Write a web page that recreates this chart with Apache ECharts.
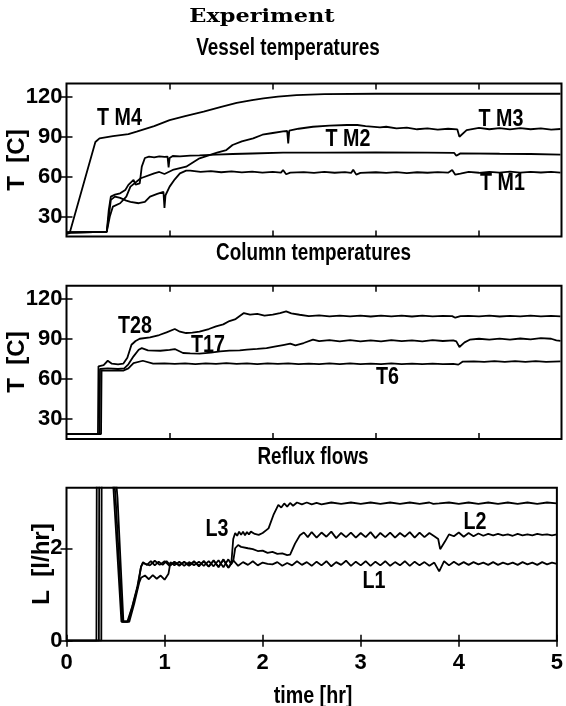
<!DOCTYPE html>
<html><head><meta charset="utf-8">
<script src="https://cdn.jsdelivr.net/npm/echarts@6/dist/echarts.min.js"></script>
<style>html,body{margin:0;padding:0;background:#fff}#c{width:566px;height:706px}</style>
</head><body><div id="c"></div><script>
// ---------- Panel 1: vessel temperatures [t hr, T C] ----------
const tm4 = [[0,17],[0.03,17.5],[0.28,86],[0.32,88.8],[0.45,90.5],[0.6,92],[0.68,93.8],[0.85,98],[1.0,102.5],[1.15,105.5],[1.33,108.8],[1.5,112.5],[1.65,115.5],[1.8,117.5],[1.91,118.8],[2.05,120.2],[2.23,121.3],[2.5,122],[3.0,122.3],[3.5,122.3],[4.0,122.3],[4.79,122.3]];
const tm3 = [[0,18],[0.39,18.5],[0.42,30],[0.45,37.5],[0.52,40],[0.58,45],[0.62,52.5],[0.72,58.8],[0.85,62.5],[0.9,63.5],[0.95,62],[1.03,65],[1.16,67.5],[1.29,73.8],[1.46,78],[1.55,80],[1.61,83.8],[1.7,86.5],[1.81,88.8],[1.9,91.5],[2.0,92.8],[2.1,94],[2.14,94.3],[2.15,85],[2.16,94.5],[2.25,96],[2.39,97.5],[2.55,98.3],[2.72,98.8],[2.82,98.8],[2.9,98],[3.04,97],[3.1,97.5],[3.2,96.3],[3.3,96.8],[3.4,95.6],[3.5,96.3],[3.6,95.4],[3.7,96],[3.79,95.5],[3.81,90],[3.88,95],[4.0,96.6],[4.1,95.6],[4.2,96.5],[4.3,95.5],[4.4,96.4],[4.5,95.6],[4.6,96.3],[4.7,95.4],[4.79,95.8]];
const tm2 = [[0,18],[0.39,18.5],[0.41,35],[0.43,45],[0.47,46.5],[0.52,47.5],[0.57,50],[0.6,53.8],[0.65,57.5],[0.67,54],[0.71,55],[0.73,67.5],[0.76,74],[0.8,75],[0.85,74.5],[0.9,75.3],[0.95,74.8],[0.98,75],[0.99,67],[1.0,74],[1.03,75.5],[1.1,75.2],[1.2,75.8],[1.29,76],[1.45,76.5],[1.61,77],[1.8,77.4],[2.1,78],[2.5,78],[3.0,78.2],[3.5,78],[3.76,77.8],[3.78,75.7],[3.82,77.5],[4.2,77.2],[4.5,77],[4.79,76.5]];
const tm1 = [[0,18],[0.39,18.5],[0.41,30],[0.43,42.5],[0.47,45],[0.52,44],[0.58,42],[0.62,41],[0.7,40],[0.76,41],[0.81,45],[0.88,47],[0.94,48.5],[0.95,36.5],[0.96,46],[1.0,52.5],[1.05,58],[1.1,62.5],[1.16,64.5],[1.2,64.5],[1.3,63.5],[1.4,64.2],[1.5,63.3],[1.6,64],[1.7,63.2],[1.8,63.8],[1.9,63],[2.0,63.6],[2.08,63],[2.1,65],[2.13,61.8],[2.17,63],[2.3,63.4],[2.4,62.8],[2.5,63.5],[2.6,62.9],[2.7,63.4],[2.76,62.8],[2.78,65.2],[2.81,61.5],[2.85,62.8],[3.0,63.3],[3.1,62.8],[3.2,63.4],[3.3,62.7],[3.4,63.3],[3.5,62.9],[3.6,63.4],[3.7,63],[3.74,65],[3.77,61.5],[3.82,62.2],[3.9,63.5],[4.0,62.9],[4.1,63.6],[4.2,63],[4.3,63.7],[4.4,63],[4.5,63.6],[4.6,63.1],[4.7,63.5],[4.79,63]];

// ---------- Panel 2: column temperatures ----------
const t28 = [[0,18.7],[0.305,18.7],[0.31,69.5],[0.36,70.5],[0.4,73.7],[0.44,71.5],[0.5,71],[0.55,71.5],[0.59,76],[0.63,85.7],[0.67,88.5],[0.71,90.2],[0.81,91.2],[0.9,93],[0.97,95],[1.05,97.5],[1.1,95.5],[1.16,94.5],[1.22,94.8],[1.29,95.5],[1.38,97.5],[1.45,99.5],[1.52,101],[1.58,103.5],[1.64,105],[1.72,109.5],[1.78,108.3],[1.85,108.8],[1.92,107.5],[2.0,108.3],[2.07,109.5],[2.13,110.7],[2.18,109.3],[2.26,108.2],[2.35,107.2],[2.45,107.8],[2.55,107],[2.65,107.6],[2.75,107],[2.85,107.5],[2.95,106.9],[3.05,107.6],[3.15,107],[3.25,107.5],[3.35,106.9],[3.45,107.5],[3.55,107],[3.65,107.4],[3.74,107.2],[3.77,106],[3.82,107.2],[3.9,107.4],[4.0,107],[4.1,107.5],[4.2,106.9],[4.3,107.4],[4.4,107],[4.5,107.5],[4.6,107],[4.7,107.4],[4.79,107]];
const t17 = [[0,18.7],[0.32,18.7],[0.325,67.5],[0.4,68],[0.5,67.5],[0.56,68],[0.6,71],[0.65,77],[0.7,82],[0.73,83.2],[0.79,81.5],[0.91,81.2],[1.0,81.8],[1.05,82.5],[1.13,79.5],[1.2,79.2],[1.29,79],[1.4,79.8],[1.49,80.7],[1.58,81.3],[1.68,81.5],[1.75,82],[1.85,82.6],[1.94,83.2],[2.03,84.5],[2.1,85.5],[2.17,86.5],[2.22,85.3],[2.3,87],[2.39,89.5],[2.45,88.4],[2.55,89.2],[2.65,88.3],[2.75,89.1],[2.85,88.2],[2.95,89],[3.05,88.3],[3.15,89.2],[3.25,88.4],[3.35,89],[3.45,88.3],[3.55,89.2],[3.65,88.5],[3.75,89],[3.78,88.2],[3.81,84],[3.86,87.5],[3.91,89.5],[4.0,90.2],[4.1,89.5],[4.2,90.3],[4.3,89.6],[4.4,90.4],[4.5,89.7],[4.6,90.6],[4.7,90.2],[4.75,89],[4.79,88.6]];
const t6 = [[0,18.7],[0.335,18.7],[0.34,66.3],[0.45,66.3],[0.55,66.3],[0.6,68],[0.65,72],[0.74,73.7],[0.84,71.5],[0.95,71.8],[1.05,71.3],[1.15,71.8],[1.25,71.2],[1.35,71.8],[1.45,71.3],[1.55,71.9],[1.65,71.3],[1.75,71.8],[1.85,71.2],[1.95,71.7],[2.05,71.3],[2.15,71.8],[2.25,71.1],[2.35,71.6],[2.45,71.1],[2.55,71.7],[2.65,71.2],[2.75,71.8],[2.85,71.2],[2.95,71.6],[3.05,71.1],[3.15,71.7],[3.25,71.2],[3.35,71.6],[3.45,71.1],[3.55,71.6],[3.65,71.1],[3.75,71.4],[3.8,70.8],[3.84,73],[3.95,73.3],[4.05,72.8],[4.15,73.4],[4.25,72.9],[4.35,73.4],[4.45,72.9],[4.55,73.4],[4.65,72.9],[4.79,73.2]];

// ---------- Panel 3: reflux flows [t hr, L l/hr] ----------
const l1 = [[0,0],[0.305,0],[0.31,5],[0.45,4.5],[0.5,3.1],[0.57,0.41],[0.62,0.41],[0.67,0.74],[0.72,1.15],[0.76,1.6],[0.78,1.68],[0.8,1.72],[0.85,1.63],[0.9,1.73],[0.95,1.64],[1.0,1.72],[1.05,1.62],[1.1,1.71],[1.15,1.64],[1.2,1.7],[1.25,1.62],[1.3,1.7],[1.35,1.63],[1.4,1.71],[1.45,1.61],[1.5,1.73],[1.55,1.6],[1.6,1.75],[1.65,1.58],[1.7,1.74],[1.75,1.62],[1.8,1.7],[1.85,1.64],[1.9,1.72],[1.95,1.63],[2.0,1.69],[2.05,1.66],[2.1,1.65],[2.15,1.7],[2.2,1.62],[2.25,1.68],[2.3,1.63],[2.35,1.72],[2.4,1.64],[2.45,1.7],[2.5,1.62],[2.55,1.71],[2.6,1.63],[2.65,1.72],[2.7,1.61],[2.75,1.7],[2.8,1.64],[2.85,1.73],[2.9,1.62],[2.95,1.71],[3.0,1.63],[3.05,1.72],[3.1,1.62],[3.15,1.71],[3.2,1.63],[3.25,1.72],[3.3,1.62],[3.35,1.7],[3.4,1.63],[3.45,1.72],[3.5,1.62],[3.55,1.71],[3.6,1.63],[3.65,1.7],[3.7,1.62],[3.75,1.69],[3.8,1.5],[3.85,1.72],[3.9,1.63],[3.95,1.71],[4.0,1.64],[4.05,1.7],[4.1,1.64],[4.15,1.7],[4.2,1.65],[4.25,1.69],[4.3,1.64],[4.35,1.7],[4.4,1.64],[4.45,1.69],[4.5,1.65],[4.55,1.69],[4.6,1.64],[4.65,1.7],[4.7,1.65],[4.75,1.69],[4.8,1.64],[4.85,1.7],[4.9,1.65],[4.95,1.69],[5.0,1.66]];
const l2 = [[0,0],[0.33,0],[0.335,5],[0.46,4.6],[0.52,3.09],[0.58,0.42],[0.63,0.42],[0.68,0.8],[0.73,1.2],[0.76,1.6],[0.78,1.7],[0.82,1.64],[0.86,1.72],[0.9,1.63],[0.94,1.71],[0.98,1.64],[1.02,1.72],[1.06,1.63],[1.1,1.7],[1.15,1.62],[1.2,1.71],[1.25,1.63],[1.3,1.72],[1.35,1.61],[1.4,1.73],[1.45,1.6],[1.5,1.74],[1.55,1.59],[1.6,1.76],[1.65,1.58],[1.7,1.72],[1.72,2.0],[1.75,2.07],[1.78,2.03],[1.8,2.06],[1.85,2.0],[1.9,1.98],[1.95,1.94],[2.0,1.95],[2.05,1.9],[2.1,1.92],[2.15,1.88],[2.2,1.89],[2.25,1.85],[2.28,1.86],[2.33,2.1],[2.38,2.28],[2.42,2.34],[2.46,2.24],[2.5,2.35],[2.55,2.23],[2.6,2.34],[2.65,2.25],[2.7,2.36],[2.75,2.22],[2.8,2.33],[2.85,2.24],[2.9,2.34],[2.95,2.23],[3.0,2.33],[3.05,2.24],[3.1,2.35],[3.15,2.22],[3.2,2.33],[3.25,2.24],[3.3,2.34],[3.35,2.23],[3.4,2.33],[3.45,2.25],[3.5,2.35],[3.55,2.23],[3.6,2.34],[3.65,2.24],[3.7,2.33],[3.75,2.26],[3.79,2.2],[3.81,1.98],[3.86,2.15],[3.9,2.3],[3.95,2.26],[4.0,2.34],[4.05,2.25],[4.1,2.33],[4.15,2.26],[4.2,2.32],[4.25,2.27],[4.3,2.31],[4.35,2.28],[4.4,2.31],[4.45,2.28],[4.5,2.3],[4.55,2.27],[4.6,2.31],[4.65,2.28],[4.7,2.3],[4.75,2.28],[4.8,2.31],[4.85,2.29],[4.9,2.3],[4.95,2.28],[5.0,2.3]];
const l3 = [[0,0],[0.355,0],[0.36,5],[0.47,3.6],[0.56,0.41],[0.64,0.41],[0.69,0.8],[0.74,1.25],[0.76,1.36],[0.8,1.41],[0.84,1.33],[0.88,1.42],[0.92,1.34],[0.96,1.41],[1.0,1.32],[1.02,1.29],[1.04,1.45],[1.06,1.7],[1.1,1.63],[1.15,1.71],[1.2,1.62],[1.25,1.7],[1.3,1.63],[1.35,1.71],[1.4,1.62],[1.45,1.72],[1.5,1.61],[1.55,1.74],[1.6,1.59],[1.65,1.76],[1.68,1.65],[1.7,2.2],[1.72,2.33],[1.74,2.27],[1.76,2.36],[1.78,2.29],[1.8,2.36],[1.82,2.28],[1.84,2.35],[1.86,2.3],[1.88,2.36],[1.92,2.31],[1.96,2.29],[2.0,2.33],[2.06,2.43],[2.11,2.72],[2.16,2.94],[2.19,2.88],[2.22,2.97],[2.25,2.9],[2.28,2.98],[2.31,2.92],[2.35,2.99],[2.4,2.95],[2.45,2.99],[2.5,2.95],[2.55,2.98],[2.6,2.95],[2.7,2.99],[2.8,2.96],[2.9,2.99],[3.0,2.96],[3.1,2.99],[3.2,2.96],[3.3,2.99],[3.4,2.96],[3.5,2.99],[3.6,2.96],[3.7,2.99],[3.74,2.96],[3.76,2.92],[3.8,2.97],[3.9,2.99],[4.0,2.96],[4.1,2.99],[4.2,2.96],[4.3,2.99],[4.4,2.96],[4.5,2.99],[4.6,2.96],[4.7,2.99],[4.8,2.96],[4.9,2.99],[5.0,2.97]];

// ---------- axes / ticks / labels ----------
const tempTicks = [30, 60, 90, 120];
const flowTicks = [0, 2];
const timeTicksTop = [1, 2, 3, 4];
const timeTicks = [0, 1, 2, 3, 4, 5];
const titles = ['Experiment', 'Vessel temperatures', 'Column temperatures', 'Reflux flows'];
const axisNames = ['T  [C]', 'L  [l/hr]', 'time [hr]'];
const curveLabels = ['T M4', 'T M3', 'T M2', 'T M1', 'T28', 'T17', 'T6', 'L3', 'L2', 'L1'];

const SANS = '"Liberation Sans", Arial, sans-serif';
const tickStyle = {show: true, inside: true, length: 6, lineStyle: {color: '#000', width: 1.5}};
const lblStyle = {color: '#000', fontFamily: SANS, fontWeight: 'bold', fontSize: 22};

function xAxes(gi, max, ticks, labels) {
  return [
    {type: 'value', gridIndex: gi, min: 0, max: max, position: 'bottom',
     axisLine: {show: false}, splitLine: {show: false},
     axisTick: Object.assign({customValues: ticks}, tickStyle),
     axisLabel: labels ? Object.assign({customValues: labels, margin: 11}, lblStyle) : {show: false}},
    {type: 'value', gridIndex: gi, min: 0, max: max, position: 'top',
     axisLine: {show: false}, splitLine: {show: false},
     axisTick: Object.assign({customValues: ticks}, tickStyle), axisLabel: {show: false}}
  ];
}
function yAxes(gi, min, max, ticks) {
  return [
    {type: 'value', gridIndex: gi, min: min, max: max, position: 'left',
     axisLine: {show: false}, splitLine: {show: false},
     axisTick: Object.assign({customValues: ticks}, tickStyle),
     axisLabel: Object.assign({customValues: ticks, margin: 4}, lblStyle)},
    {type: 'value', gridIndex: gi, min: min, max: max, position: 'right',
     axisLine: {show: false}, splitLine: {show: false},
     axisTick: Object.assign({customValues: ticks}, tickStyle), axisLabel: {show: false}}
  ];
}
function line(data, gi) {
  return {type: 'line', data: data, xAxisIndex: gi * 2, yAxisIndex: gi * 2, showSymbol: false,
    symbol: 'none', clip: true, lineStyle: {color: '#000', width: 1.8}, itemStyle: {color: '#000'},
    emphasis: {disabled: true}, silent: true, z: 3};
}
function txt(text, x, y, size, extra) {
  return Object.assign({type: 'text', x: x, y: y, silent: true, scaleX: 0.82,
    style: {text: text, fill: '#000', fontFamily: SANS, fontWeight: 'bold', fontSize: size,
      align: 'center', verticalAlign: 'middle'}}, extra || {});
}

const gridBox = {show: true, borderColor: '#000', borderWidth: 2, backgroundColor: 'transparent'};
const option = {
  backgroundColor: '#fff',
  animation: false,
  grid: [
    Object.assign({left: 66.5, top: 83.5, width: 495, height: 153}, gridBox),
    Object.assign({left: 66.5, top: 285.7, width: 495, height: 153.3}, gridBox),
    Object.assign({left: 66.5, top: 487.7, width: 495, height: 153}, gridBox)
  ],
  xAxis: [].concat(xAxes(0, 4.8, timeTicksTop, null), xAxes(1, 4.8, timeTicksTop, null), xAxes(2, 5, timeTicks, timeTicks)),
  yAxis: [].concat(yAxes(0, 15, 130, tempTicks), yAxes(1, 15, 130, tempTicks), yAxes(2, 0, 3.31, flowTicks)),
  series: [line(tm4, 0), line(tm3, 0), line(tm2, 0), line(tm1, 0),
           line(t28, 1), line(t17, 1), line(t6, 1),
           line(l1, 2), line(l2, 2), line(l3, 2)],
  graphic: [
    {type: 'text', x: 262, y: 17, silent: true, scaleX: 1.18, style: {text: titles[0], fill: '#000',
      fontFamily: '"DejaVu Serif", serif', fontWeight: 'bold', fontSize: 19, align: 'center', verticalAlign: 'middle'}},
    txt(titles[1], 288, 49, 23),
    txt(titles[2], 313.5, 254, 23),
    txt(titles[3], 313, 458, 23),
    txt(axisNames[0], 17, 160, 24, {rotation: Math.PI / 2, scaleX: 1}),
    txt(axisNames[0], 17, 362, 24, {rotation: Math.PI / 2, scaleX: 1}),
    txt(axisNames[1], 42, 564, 24, {rotation: Math.PI / 2, scaleX: 1}),
    txt(axisNames[2], 313, 696, 24),
    txt(curveLabels[0], 119.5, 118, 24),
    txt(curveLabels[1], 501, 119, 24),
    txt(curveLabels[2], 348, 139, 24),
    txt(curveLabels[3], 502.5, 183.5, 24),
    txt(curveLabels[4], 135, 326, 24),
    txt(curveLabels[5], 208, 345, 24),
    txt(curveLabels[6], 387.5, 377, 24),
    txt(curveLabels[7], 217, 529.5, 24),
    txt(curveLabels[8], 475, 522, 24),
    txt(curveLabels[9], 374, 581, 24)
  ]
};
const chart = echarts.init(document.getElementById('c'), null, {renderer: 'canvas'});
chart.setOption(option);
</script></body></html>
